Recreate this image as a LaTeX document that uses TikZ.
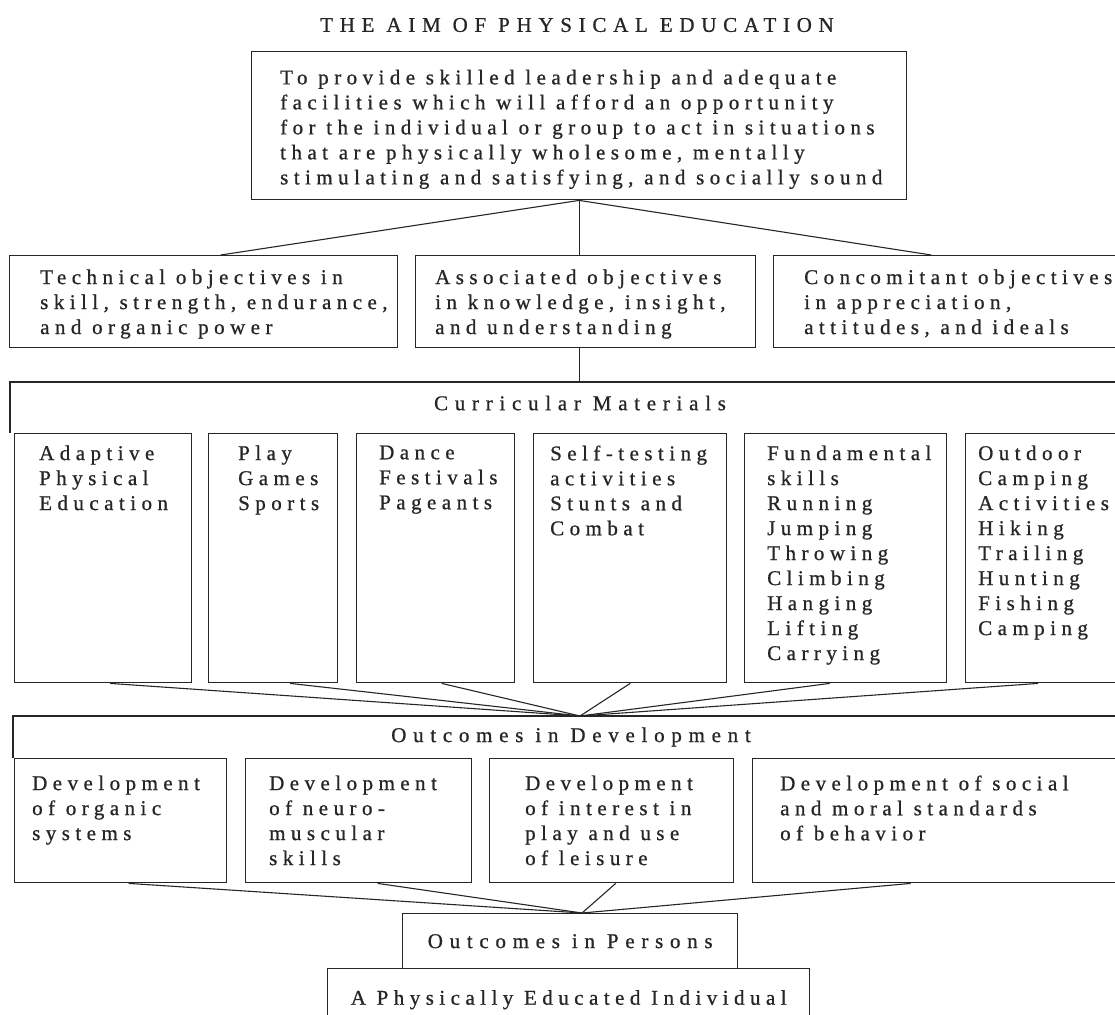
\documentclass[tikz,border=0pt]{standalone}
\usepackage{fontspec}
\setmainfont{Liberation Serif}[LetterSpace=26, FakeBold=0.8]
\usetikzlibrary{positioning}

\begin{document}
\begin{tikzpicture}[x=1pt, y=-1pt]
    % Setup the styles for the boxes and texts
        \tikzset{box style/.style={draw=black!85, line width=1.4pt, inner sep=0pt,
                                   anchor=north west},
                 text style/.style={align=left, inner sep=0pt, anchor=north west,
                                    text=black!85,
                                    font=\fontsize{21}{25}\selectfont},
                 head style/.style={inner sep=0pt, text=black!85,
                                    font=\fontsize{21}{25}\selectfont\addfontfeatures{LetterSpace=32}},
                 link style/.style={draw=black!85, line width=1.1pt}}

        \useasboundingbox (0,0) rectangle (1115,1014);
        \clip (0,0) rectangle (1115,1014);

        % The aim
        \node[head style] at (577,25) (title) {THE AIM OF PHYSICAL EDUCATION};
        \node[box style, minimum width=655, minimum height=148] at (251,51) (aim) {};
        \node[text style, below right=18.6pt and 29pt of aim.north west] (aimtext)
            {To provide skilled leadership and adequate\\
             facilities which will afford an opportunity\\
             for the individual or group to act in situations\\
             that are physically wholesome, mentally\\
             stimulating and satisfying, and socially sound};

        % The objectives
        \node[box style, minimum width=388, minimum height=92] at (9,255)   (tech)  {};
        \node[box style, minimum width=340, minimum height=92] at (415,255) (assoc) {};
        \node[box style, minimum width=377, minimum height=92] at (773,255) (conc)  {};
        \node[text style, below right=14.3pt and 31pt of tech.north west] (techtext)
            {Technical objectives in\\skill, strength, endurance,\\and organic power};
        \node[text style, below right=14.3pt and 20pt of assoc.north west] (assoctext)
            {Associated objectives\\in knowledge, insight,\\and understanding};
        \node[text style, below right=14.3pt and 31pt of conc.north west] (conctext)
            {Concomitant objectives\\in appreciation,\\attitudes, and ideals};

        % Curricular materials
        \node[inner sep=0pt, anchor=north west, minimum width=1140, minimum height=51]
            at (10,382) (curr) {};
        \draw[box style] (curr.south west) |- (curr.north east) -- (curr.south east);
        \node[head style] at (580,403) (currtext) {Curricular Materials};
        \node[box style, minimum width=177, minimum height=249] at (14,433)  (adapt)   {};
        \node[box style, minimum width=129, minimum height=249] at (208,433) (play)    {};
        \node[box style, minimum width=158, minimum height=249] at (356,433) (dance)   {};
        \node[box style, minimum width=193, minimum height=249] at (533,433) (stunt)   {};
        \node[box style, minimum width=202, minimum height=249] at (744,433) (skill)   {};
        \node[box style, minimum width=165, minimum height=249] at (965,433) (outdoor) {};
        \node[text style, below right=12.3pt and 25pt of adapt.north west] (adapttext)
            {Adaptive\\Physical\\Education};
        \node[text style, below right=12.3pt and 30pt of play.north west] (playtext)
            {Play\\Games\\Sports};
        \node[text style, below right=12.3pt and 23pt of dance.north west] (dancetext)
            {Dance\\Festivals\\Pageants};
        \node[text style, below right=12.3pt and 17pt of stunt.north west] (stunttext)
            {Self-testing\\activities\\Stunts and\\Combat};
        \node[text style, below right=12.3pt and 23pt of skill.north west] (skilltext)
            {Fundamental\\skills\\Running\\Jumping\\Throwing\\Climbing\\Hanging\\Lifting\\Carrying};
        \node[text style, below right=12.3pt and 13pt of outdoor.north west] (outdoortext)
            {Outdoor\\Camping\\Activities\\Hiking\\Trailing\\Hunting\\Fishing\\Camping};

        % Outcomes in development
        \node[inner sep=0pt, anchor=north west, minimum width=1117, minimum height=42]
            at (13,716) (dev) {};
        \draw[box style] (dev.south west) |- (dev.north east) -- (dev.south east);
        \node[head style] at (571,737) (devtext) {Outcomes in Development};
        \node[box style, minimum width=212, minimum height=124] at (14,758)  (organ)   {};
        \node[box style, minimum width=226, minimum height=124] at (245,758) (neuro)   {};
        \node[box style, minimum width=244, minimum height=124] at (489,758) (leisure) {};
        \node[box style, minimum width=378, minimum height=124] at (752,758) (social)  {};
        \node[text style, below right=17.3pt and 18pt of organ.north west] (organtext)
            {Development\\of organic\\systems};
        \node[text style, below right=17.3pt and 24pt of neuro.north west] (neurotext)
            {Development\\of neuro-\\muscular\\skills};
        \node[text style, below right=17.3pt and 36pt of leisure.north west] (leisuretext)
            {Development\\of interest in\\play and use\\of leisure};
        \node[text style, below right=17.3pt and 28pt of social.north west] (socialtext)
            {Development of social\\and moral standards\\of behavior};

        % Outcomes in persons
        \node[box style, head style, minimum width=335, minimum height=55] at (402,913) (persons)
            {Outcomes in Persons};
        \node[box style, text style, align=center, minimum width=482, minimum height=62]
            at (327,968) (educ) {A Physically Educated Individual};

        % Connect the boxes
        \coordinate (hubA) at (580,716);
        \coordinate (hubB) at (582,913);
        \draw[link style]
            (aim.south) edge ([xshift=17pt]tech.north)
            (aim.south) edge (aim.south |- assoc.north)
            (aim.south) edge ([xshift=-31pt]conc.north)
            (aim.south |- assoc.south) edge (aim.south |- curr.north)
            ([xshift=7pt]adapt.south)    edge (hubA)
            ([xshift=17pt]play.south)    edge (hubA)
            ([xshift=6pt]dance.south)    edge (hubA)
            (stunt.south)                edge (hubA)
            ([xshift=-16pt]skill.south)  edge (hubA)
            ([xshift=-10pt]outdoor.south) edge (hubA)
            ([xshift=8pt]organ.south)    edge (hubB)
            ([xshift=19pt]neuro.south)   edge (hubB)
            ([xshift=4pt]leisure.south)  edge (hubB)
            ([xshift=-31pt]social.south) edge (hubB);
\end{tikzpicture}
\end{document}
